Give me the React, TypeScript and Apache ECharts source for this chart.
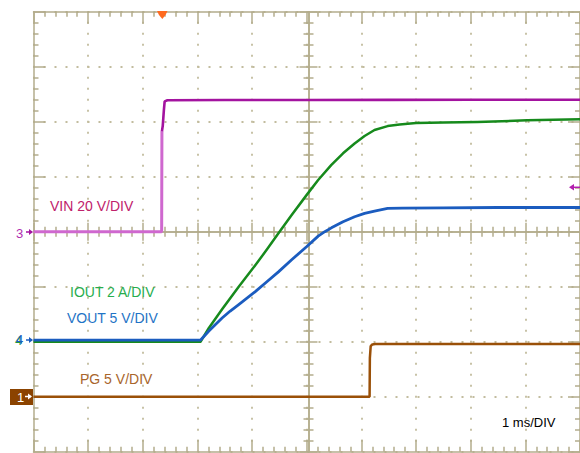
import React, { useEffect, useRef } from 'react';
import * as echarts from 'echarts';

// Time base: 1 ms/DIV, 10 divisions; vertical: 8 divisions
const timeMin = 0;
const timeMax = 10;
const divMin = -4;
const divMax = 4;

// Channel 3: VIN, 20 V/DIV, ground marker at 0 div
const vinScale = 20;
const vinOffset = 0;
const vinTime = [0, 2.345, 2.35, 2.365, 2.385, 2.4, 2.45, 3.5, 5, 6.5, 8, 9, 10];
const vinVolts = [0, 0, 36.5, 38.5, 44, 47.4, 47.8, 47.9, 47.9, 47.95, 48.0, 48.0, 48.0];

// Channel 4: VOUT, 5 V/DIV
const voutScale = 5;
const voutOffset = -1.97;
const voutTime = [0, 3.058, 3.209, 3.451, 3.6, 3.755, 4.058, 4.27, 4.482, 4.724, 4.996, 5.209, 5.33, 5.451, 5.664, 5.876, 6.058, 6.24, 6.48, 6.75, 7.5, 8.5, 9.5, 10];
const voutVolts = [0, 0, 0.82, 2.0, 2.64, 3.22, 4.4, 5.3, 6.2, 7.3, 8.48, 9.45, 9.85, 10.2, 10.76, 11.21, 11.52, 11.73, 11.97, 12.0, 12.02, 12.05, 12.05, 12.05];

// Channel 2: IOUT, 2 A/DIV
const ioutScale = 2;
const ioutOffset = -2;
const ioutTime = [0, 3.058, 3.209, 3.451, 3.755, 4.058, 4.27, 4.482, 4.724, 4.996, 5.209, 5.451, 5.664, 5.876, 6.058, 6.24, 6.48, 6.7, 7.0, 7.5, 8.12, 9.03, 10];
const ioutAmps = [0, 0, 0.5, 1.18, 2.0, 2.78, 3.35, 3.94, 4.61, 5.33, 5.88, 6.43, 6.85, 7.21, 7.48, 7.7, 7.84, 7.9, 7.95, 7.97, 7.99, 8.05, 8.09];

// Channel 1: PG, 5 V/DIV
const pgScale = 5;
const pgOffset = -3;
const pgTime = [0, 6.15, 6.155, 6.17, 6.2, 6.25, 10];
const pgVolts = [0, 0, 3.5, 4.6, 4.75, 4.79, 4.79];

const toDiv = (t: number[], v: number[], scale: number, offset: number) =>
  t.map((x, i) => [x, v[i] / scale + offset]);

const vinDiv = toDiv(vinTime, vinVolts, vinScale, vinOffset);

const GRID = '#b3ac8c';
const DOT = '#c2bc9e';

const FONT = 'Liberation Sans, Arial, sans-serif';

function xAxisDef(position: 'top' | 'bottom', offset: number, inside: boolean, major: number, split: boolean) {
  return {
    type: 'value',
    min: timeMin,
    max: timeMax,
    interval: 1,
    position,
    offset,
    axisLine: { show: true, onZero: false, lineStyle: { color: GRID, width: 1.5 } },
    axisTick: { show: true, inside, length: major, lineStyle: { color: GRID, width: 1.5 } },
    minorTick: { show: true, splitNumber: 5, length: 5, lineStyle: { color: GRID, width: 1.5 } },
    axisLabel: { show: false },
    splitLine: split
      ? { show: true, lineStyle: { color: DOT, width: 1.8, type: [2, 9], dashOffset: 1 } }
      : { show: false },
    minorSplitLine: { show: false },
  };
}

function yAxisDef(position: 'left' | 'right', offset: number, inside: boolean, major: number, split: boolean) {
  return {
    type: 'value',
    min: divMin,
    max: divMax,
    interval: 1,
    position,
    offset,
    axisLine: { show: true, onZero: false, lineStyle: { color: GRID, width: 1.5 } },
    axisTick: { show: true, inside, length: major, lineStyle: { color: GRID, width: 1.5 } },
    minorTick: { show: true, splitNumber: 5, length: 5, lineStyle: { color: GRID, width: 1.5 } },
    axisLabel: { show: false },
    splitLine: split
      ? { show: true, lineStyle: { color: DOT, width: 1.8, type: [2, 9], dashOffset: 1 } }
      : { show: false },
    minorSplitLine: { show: false },
  };
}

function label(text: string, x: number, y: number, color: string, size = 14) {
  return {
    type: 'text',
    x,
    y,
    style: { text, fill: color, font: `${size}px ${FONT}`, textVerticalAlign: 'middle' },
    z: 10,
  };
}

function arrowRight(x: number, y: number, color: string) {
  return [
    { type: 'line', shape: { x1: x, y1: y, x2: x + 6, y2: y }, style: { stroke: color, lineWidth: 1.5 }, z: 10 },
    {
      type: 'polygon',
      shape: { points: [[x + 3, y - 3], [x + 7, y], [x + 3, y + 3]] },
      style: { fill: color },
      z: 10,
    },
  ];
}

const option = {
  animation: false,
  backgroundColor: '#ffffff',
  grid: { left: 33.5, top: 11.7, width: 550, height: 440, containLabel: false },
  xAxis: [
    xAxisDef('bottom', 0, true, 12, true),
    xAxisDef('top', 0, true, 12, false),
    xAxisDef('bottom', -220, true, 9, false),
    xAxisDef('bottom', -220, false, 9, false),
  ],
  yAxis: [
    yAxisDef('left', 0, true, 12, true),
    yAxisDef('right', 0, true, 12, false),
    yAxisDef('left', -275, true, 9, false),
    yAxisDef('left', -275, false, 9, false),
  ],
  series: [
    {
      name: 'VIN',
      type: 'line',
      data: vinDiv.slice(0, 3),
      showSymbol: false,
      lineStyle: { color: '#cf68cf', width: 3 },
      z: 3,
    },
    {
      name: 'VIN',
      type: 'line',
      data: vinDiv.slice(2),
      showSymbol: false,
      lineStyle: { color: '#a3139f', width: 2.6 },
      z: 3,
    },
    {
      name: 'PG',
      type: 'line',
      data: toDiv(pgTime, pgVolts, pgScale, pgOffset),
      showSymbol: false,
      lineStyle: { color: '#9a5008', width: 2.5 },
      z: 3,
    },
    {
      name: 'IOUT',
      type: 'line',
      data: toDiv(ioutTime, ioutAmps, ioutScale, ioutOffset),
      showSymbol: false,
      lineStyle: { color: '#168a1c', width: 2.5, join: 'round' },
      z: 4,
    },
    {
      name: 'VOUT',
      type: 'line',
      data: toDiv(voutTime, voutVolts, voutScale, voutOffset),
      showSymbol: false,
      lineStyle: { color: '#1b5cbf', width: 2.8, join: 'round' },
      z: 5,
    },
  ],
  graphic: [
    label('VIN 20 V/DIV', 50, 206, '#c0216b'),
    label('IOUT 2 A/DIV', 70, 292, '#27ad4e'),
    label('VOUT 5 V/DIV', 67, 318, '#1f74c6'),
    label('PG 5 V/DIV', 80, 379, '#a8652b'),
    label('1 ms/DIV', 502, 422, '#000000', 13),
    // channel 3 marker
    label('3', 16, 233, '#b02cb0', 13),
    ...arrowRight(26, 232, '#a3139f'),
    // channel 2/4 markers
    label('4', 15, 340, '#1f9a3a', 13),
    label('4', 16, 339.5, '#1b5cbf', 13),
    ...arrowRight(26, 340, '#1b5cbf'),
    // channel 1 marker box
    {
      type: 'rect',
      shape: { x: 10, y: 389, width: 23, height: 16 },
      style: { fill: '#8b4300' },
      z: 10,
    },
    {
      type: 'text',
      x: 17,
      y: 397,
      style: { text: '1', fill: '#ffffff', font: `13px ${FONT}`, textVerticalAlign: 'middle' },
      z: 11,
    },
    ...arrowRight(25, 396.5, '#ffffff'),
    // trigger position marker
    {
      type: 'polygon',
      shape: { points: [[157, 11], [167.5, 11], [165.5, 15], [162.3, 19], [159, 15]] },
      style: { fill: '#ff6a1f' },
      z: 10,
    },
    // trigger level marker
    {
      type: 'polygon',
      shape: { points: [[569, 187.3], [574, 184], [574, 190.6]] },
      style: { fill: '#b21fae' },
      z: 10,
    },
    {
      type: 'line',
      shape: { x1: 572, y1: 187.3, x2: 580, y2: 187.3 },
      style: { stroke: '#b21fae', lineWidth: 1.5 },
      z: 10,
    },
  ],
};

export default function App() {
  const ref = useRef<HTMLDivElement>(null);
  useEffect(() => {
    if (!ref.current) return;
    const chart = echarts.init(ref.current, null, { renderer: 'svg' });
    chart.setOption(option as any);
    return () => chart.dispose();
  }, []);
  return (
    <div
      ref={ref}
      style={{ position: 'fixed', left: 0, top: 0, width: 580, height: 453, background: '#ffffff' }}
    />
  );
}
